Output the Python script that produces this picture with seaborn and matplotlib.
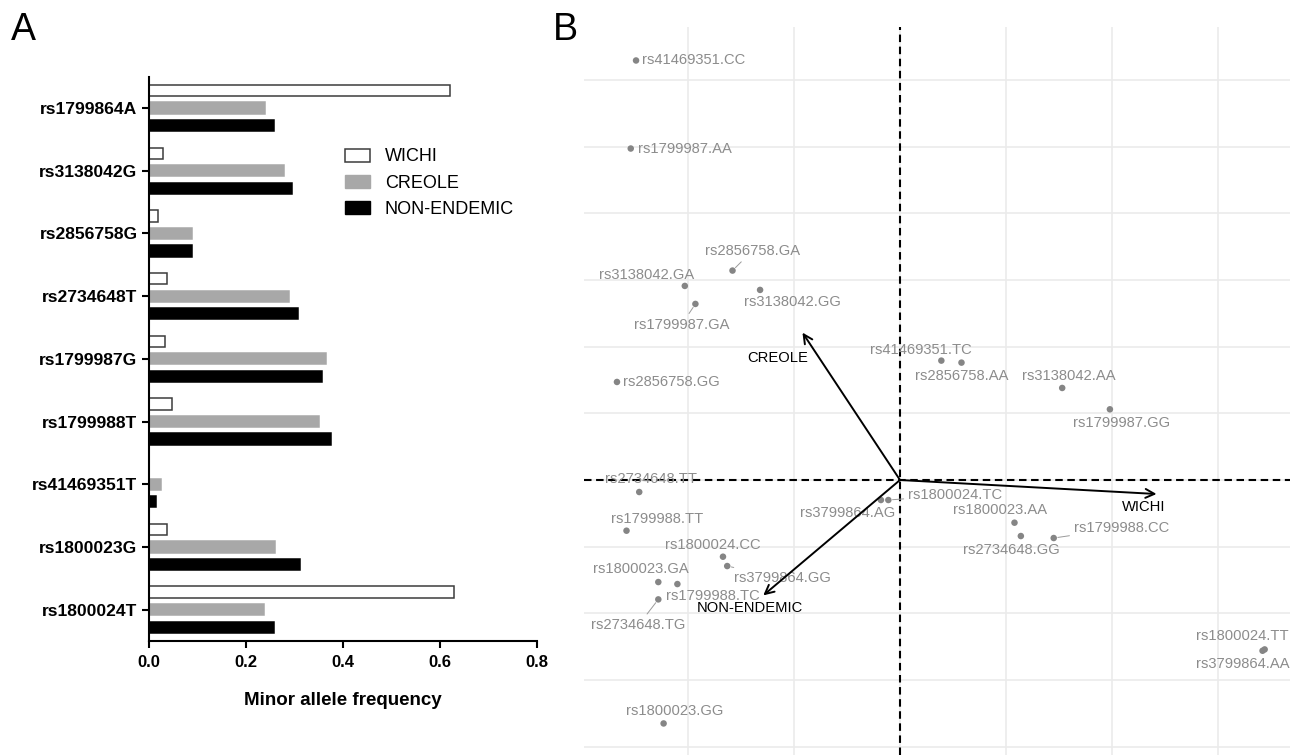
import numpy as np
import pandas as pd
import matplotlib
matplotlib.use("Agg")
import matplotlib.pyplot as plt
import seaborn as sns

# ==========================================
# Panel A data: minor allele frequencies
# ==========================================
snps = ["rs1799864A", "rs3138042G", "rs2856758G", "rs2734648T", "rs1799987G",
        "rs1799988T", "rs41469351T", "rs1800023G", "rs1800024T"]
populations = ["WICHI", "CREOLE", "NON-ENDEMIC"]
wichi = [0.622, 0.029, 0.020, 0.037, 0.033, 0.048, 0.0, 0.037, 0.629]
creole = [0.240, 0.279, 0.089, 0.290, 0.365, 0.352, 0.025, 0.260, 0.237]
non_endemic = [0.258, 0.295, 0.090, 0.308, 0.358, 0.375, 0.015, 0.311, 0.258]

# ==========================================
# Panel B data: correspondence analysis map
# ==========================================
genotypes = ["rs41469351.CC", "rs1799987.AA", "rs2856758.GA", "rs3138042.GA",
             "rs3138042.GG", "rs1799987.GA", "rs2856758.GG", "rs41469351.TC",
             "rs2856758.AA", "rs3138042.AA", "rs1799987.GG", "rs1800024.TC",
             "rs3799864.AG", "rs1800023.AA", "rs2734648.GG", "rs1799988.CC",
             "rs1800024.TT", "rs3799864.AA", "rs2734648.TT", "rs1799988.TT",
             "rs1800024.CC", "rs3799864.GG", "rs1800023.GA", "rs1799988.TC",
             "rs2734648.TG", "rs1800023.GG"]
dim1 = [-2.49, -2.54, -1.58, -2.03, -1.32, -1.93, -2.67, 0.39, 0.58, 1.53, 1.98,
        -0.11, -0.18, 1.08, 1.14, 1.45, 3.44, 3.42, -2.46, -2.58, -1.67, -1.63,
        -2.28, -2.10, -2.28, -2.23]
dim2 = [6.29, 4.97, 3.14, 2.91, 2.85, 2.64, 1.47, 1.79, 1.76, 1.38, 1.06,
        -0.30, -0.30, -0.64, -0.84, -0.87, -2.54, -2.56, -0.18, -0.76, -1.15,
        -1.29, -1.53, -1.56, -1.79, -3.65]
group_dim1 = [2.42, -0.92, -1.29]
group_dim2 = [-0.21, 2.21, -1.73]

# label placement (pixel offsets from the point, ha, leader line)
label_dx = [6, 7, 20, -38, 32, -14, 6, -20, 0, 7, 12, 20, -33, -14, -9, 68,
            -22, -20, 12, 31, -10, 55, -17, 35, -20, 11]
label_dy = [0, 0, 20, 11, -12, -21, 0, 11, -13, 12, -14, 5, -13, 13, -14, 10,
            13, -13, 13, 12, 12, -12, 13, -12, -26, 12]
label_ha = ["left", "left", "center", "center", "center", "center", "left",
            "center", "center", "center", "center", "left", "center", "center",
            "center", "center", "center", "center", "center", "center",
            "center", "center", "center", "center", "center", "center"]
leader = {"rs2856758.GA", "rs1799987.GA", "rs1800024.TC", "rs1799988.CC",
          "rs3799864.GG", "rs2734648.TG"}
group_dx = [-13, -25, -13]
group_dy = [-13, -25, -13]

W, H = 1290, 755


def px_box(left, top, right, bottom):
    return [left / W, 1 - bottom / H, (right - left) / W, (bottom - top) / H]


sns.set_style("white")
plt.rcParams["font.family"] = ["Liberation Sans", "DejaVu Sans"]
plt.rcParams["text.color"] = "black"
plt.rcParams["axes.labelcolor"] = "black"
plt.rcParams["xtick.color"] = "black"
plt.rcParams["ytick.color"] = "black"

fig = plt.figure(figsize=(W / 100, H / 100), dpi=100)

# ------------------ Panel A ------------------
axA = fig.add_axes(px_box(148.7, 76.7, 536.7, 641))
df = pd.DataFrame({
    "snp": snps * 3,
    "maf": wichi + creole + non_endemic,
    "pop": [p for p in populations for _ in snps],
})
palette = {"WICHI": "white", "CREOLE": "#a8a8a8", "NON-ENDEMIC": "black"}
sns.barplot(data=df, y="snp", x="maf", hue="pop", hue_order=populations,
            orient="h", palette=palette, width=0.84, gap=0.36,
            edgecolor="#3c3c3c", linewidth=1.1, legend=False, ax=axA)
for bar in axA.containers[1]:
    bar.set_edgecolor("#a8a8a8")
for bar in axA.containers[2]:
    bar.set_edgecolor("black")

axA.set_xlim(0, 0.8)
axA.set_ylim(8.5, -0.5)
axA.set_xticks([0, 0.2, 0.4, 0.6, 0.8])
axA.set_xticklabels(["0.0", "0.2", "0.4", "0.6", "0.8"])
axA.set_ylabel("")
axA.set_xlabel("Minor allele frequency", fontsize=13.5, fontweight="bold", labelpad=16)
for s in ["top", "right"]:
    axA.spines[s].set_visible(False)
for s in ["left", "bottom"]:
    axA.spines[s].set_linewidth(1.5)
    axA.spines[s].set_color("black")
axA.tick_params(axis="both", length=5, width=1.5, color="black", labelcolor="black",
                direction="out", left=True, bottom=True)
axA.tick_params(axis="x", pad=5, labelsize=12)
axA.tick_params(axis="y", pad=3, labelsize=12.6)
for lab in axA.get_xticklabels() + axA.get_yticklabels():
    lab.set_fontweight("bold")

handles = [plt.Rectangle((0, 0), 1, 1, facecolor="white", edgecolor="#3c3c3c", lw=1.1),
           plt.Rectangle((0, 0), 1, 1, facecolor="#a8a8a8", edgecolor="#a8a8a8"),
           plt.Rectangle((0, 0), 1, 1, facecolor="black", edgecolor="black")]
fig.legend(handles, populations, loc="center left", bbox_to_anchor=(345 / W, 1 - 183 / H),
           frameon=False, fontsize=13, handlelength=1.4, handleheight=0.75,
           handletextpad=0.8, labelspacing=0.5, borderpad=0, borderaxespad=0,
           labelcolor="black")

# ------------------ Panel B ------------------
axB = fig.add_axes(px_box(584, 27, 1290, 755))
axB.set_xlim(-2.981, 3.679)
axB.set_ylim(-4.123, 6.792)
axB.set_xticks(range(-2, 4))
axB.set_yticks(range(-4, 7))
axB.grid(True, color="#ebebeb", lw=1.2)
axB.tick_params(length=0, labelbottom=False, labelleft=False)
for s in axB.spines.values():
    s.set_visible(False)
axB.set_axisbelow(True)

axB.axhline(0, color="black", lw=1.5, dashes=(3.6, 2.2), zorder=2)
axB.axvline(0, color="black", lw=1.5, dashes=(3.6, 2.2), zorder=2)

sns.scatterplot(x=dim1, y=dim2, color="#858585", s=22, edgecolor="none",
                zorder=3, ax=axB)

for name, x, y, dx, dy, ha in zip(genotypes, dim1, dim2, label_dx, label_dy, label_ha):
    props = None
    if name in leader:
        props = dict(arrowstyle="-", color="#9a9a9a", lw=0.7, shrinkA=1, shrinkB=3)
    axB.annotate(name, xy=(x, y), xytext=(dx, dy), textcoords="offset pixels",
                 ha=ha, va="center", fontsize=10.6, color="#8c8c8c",
                 arrowprops=props, zorder=4)

for name, x, y, dx, dy in zip(populations, group_dim1, group_dim2, group_dx, group_dy):
    axB.annotate("", xy=(x, y), xytext=(0, 0),
                 arrowprops=dict(arrowstyle="->", color="black", lw=1.4,
                                 mutation_scale=16, shrinkA=0, shrinkB=0), zorder=5)
    axB.annotate(name, xy=(x, y), xytext=(dx, dy), textcoords="offset pixels",
                 ha="center", va="center", fontsize=10.6, color="black", zorder=5)

fig.text(11 / W, 1 - 30 / H, "A", fontsize=27, ha="left", va="center", color="black")
fig.text(553 / W, 1 - 30 / H, "B", fontsize=27, ha="left", va="center", color="black")

fig.savefig("out.png", dpi=100)
